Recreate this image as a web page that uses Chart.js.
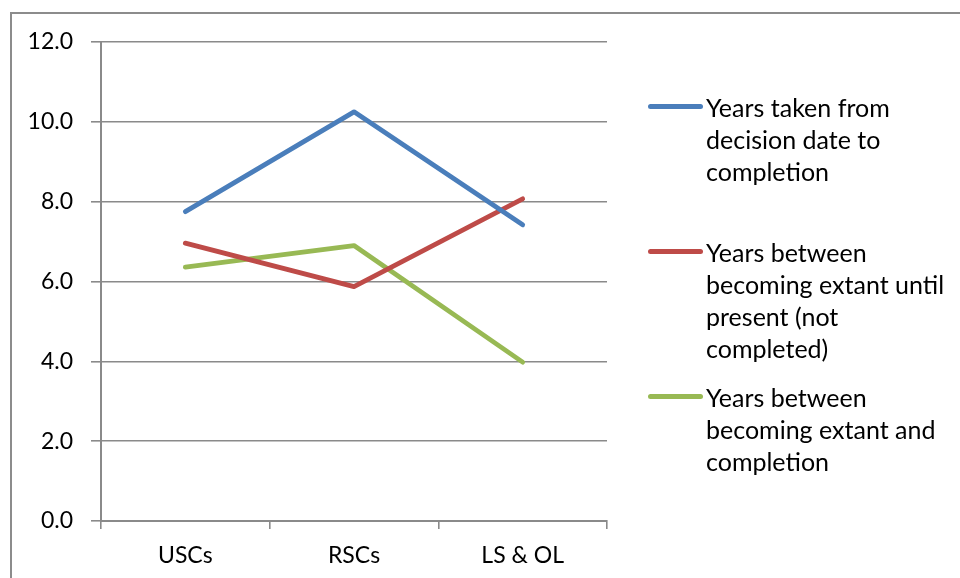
<!DOCTYPE html>
<html>
<head>
<meta charset="utf-8">
<script src="https://cdn.jsdelivr.net/npm/chart.js@4"></script>
<style>
  html, body { margin: 0; padding: 0; background: #fff; }
  #wrap { position: relative; width: 960px; height: 578px; overflow: hidden; }
  #frame { position: absolute; left: 10px; top: 12px; width: 1000px; height: 700px;
           border-left: 2px solid #8c8c8c; border-top: 2px solid #8c8c8c; box-sizing: border-box; }
  canvas { position: absolute; left: 0; top: 0; }
  .entry { position: absolute; left: 648px; font-family: Lato, "Open Sans", sans-serif;
           font-size: 25px; line-height: 32px; color: #000; }
  .entry .swatch { position: absolute; left: 0; top: 13px; width: 55px; height: 5px; border-radius: 3px; }
  .entry .txt { position: absolute; left: 58px; top: 0; white-space: nowrap; }
</style>
</head>
<body>
<div id="wrap">
  <div id="frame"></div>
  <canvas id="c" width="960" height="578"></canvas>
  <div id="legend"></div>
</div>
<script>
const categories = ["USCs", "RSCs", "LS & OL"];
const decisionToCompletion = [7.75, 10.25, 7.42];
const extantUntilPresent = [6.96, 5.87, 8.07];
const extantToCompletion = [6.36, 6.90, 3.98];
const seriesNames = [
  ["Years taken from", "decision date to", "completion"],
  ["Years between", "becoming extant until", "present (not", "completed)"],
  ["Years between", "becoming extant and", "completion"]
];
const seriesColors = ["#4a7ebb", "#be4b48", "#98b954"];
const yTicks = [0, 2, 4, 6, 8, 10, 12];

const seriesData = [decisionToCompletion, extantUntilPresent, extantToCompletion];

// HTML legend
const legendTops = [91, 236, 381];
const legend = document.getElementById('legend');
seriesNames.forEach((lines, i) => {
  const e = document.createElement('div');
  e.className = 'entry';
  e.style.top = legendTops[i] + 'px';
  const sw = document.createElement('div');
  sw.className = 'swatch';
  sw.style.background = seriesColors[i];
  const t = document.createElement('div');
  t.className = 'txt';
  t.innerHTML = lines.join('<br>');
  e.appendChild(sw); e.appendChild(t);
  legend.appendChild(e);
});

const font = { family: 'Lato, "Open Sans", sans-serif', size: 23 };

new Chart(document.getElementById('c'), {
  type: 'line',
  data: {
    labels: categories,
    datasets: seriesData.map((d, i) => ({
      label: seriesNames[i].join(' '),
      data: d,
      borderColor: seriesColors[i],
      backgroundColor: seriesColors[i],
      borderWidth: 4.8,
      pointRadius: 0,
      tension: 0,
      borderCapStyle: 'round',
      borderJoinStyle: 'round',
      fill: false
    }))
  },
  options: {
    responsive: false,
    animation: false,
    layout: { padding: { top: 42, right: 353, left: 0, bottom: 0 } },
    plugins: { legend: { display: false }, tooltip: { enabled: false } },
    scales: {
      x: {
        offset: true,
        grid: { offset: true, drawOnChartArea: false, drawTicks: true, tickLength: 8, color: '#8a8a8a', lineWidth: 1.6 },
        border: { color: '#8a8a8a', width: 2 },
        ticks: { color: '#000', font: font, padding: 13, maxRotation: 0 },
        afterFit: s => { s.height = 57; }
      },
      y: {
        min: 0, max: 12,
        afterBuildTicks: s => { s.ticks = yTicks.map(v => ({ value: v })); },
        grid: { color: '#8a8a8a', lineWidth: 1.6, drawTicks: true, tickLength: 10 },
        border: { color: '#8a8a8a', width: 2 },
        ticks: { color: '#000', font: font, padding: 18, callback: v => Number(v).toFixed(1) },
        afterFit: s => { s.width = 101; }
      }
    }
  }
});
</script>
</body>
</html>
